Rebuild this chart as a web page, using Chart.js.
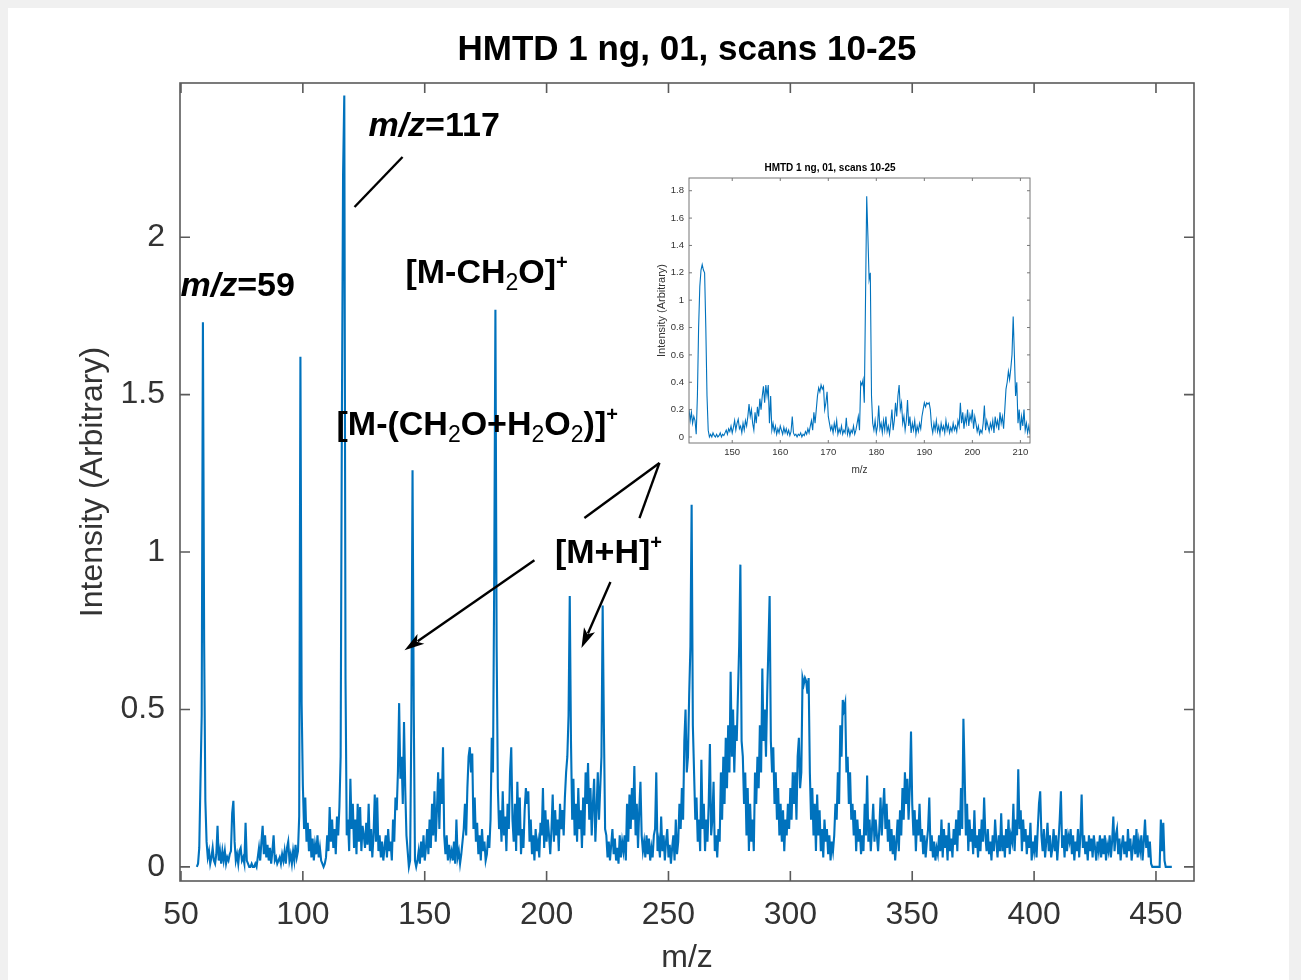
<!DOCTYPE html>
<html>
<head>
<meta charset="utf-8">
<script src="https://cdn.jsdelivr.net/npm/chart.js@4.4.1/dist/chart.umd.min.js"></script>
<style>
html,body{margin:0;padding:0;background:#f0f0f0;}
#wrap{position:relative;width:1301px;height:980px;overflow:hidden;}
#main{position:absolute;left:0;top:0;}
#inset{position:absolute;left:630px;top:150px;}
</style>
</head>
<body>
<div id="wrap">
<canvas id="main" width="1301" height="980"></canvas>
<canvas id="inset" width="420" height="340"></canvas>
</div>
<script>
// ---------------- DATA ----------------
const chartTitle = 'HMTD 1 ng, 01, scans 10-25';
const xAxisLabel = 'm/z';
const yAxisLabel = 'Intensity (Arbitrary)';

// main spectrum: each row holds 10 intensities, m/z grid starts at 56.5, step 0.5
const mainMzStart = 56.5;
const mainMzStep = 0.5;
const mainIntensityRows = [
  [0,0.01,0.06,0.27,0.48,1.73,0.72,0.21,0.08,0.03],      // 56.5
  [0.05,0.01,0.03,0.06,0.02,0.01,0.04,0.13,0.02,0.05],   // 61.5
  [0.01,0.05,0.02,0.05,0.01,0.03,0.02,0.04,0.05,0.17],   // 66.5
  [0.21,0.08,0.02,0.04,0.01,0.05,0.06,0.02,0.03,0.01],   // 71.5
  [0.14,0.02,0.01,0,0,0.01,0,0,0.01,0],                  // 76.5
  [0.03,0.06,0.02,0.08,0.13,0.04,0.1,0.03,0.07,0.02],    // 81.5
  [0.06,0.01,0.05,0.1,0.02,0.03,0.01,0.02,0.03,0.01],    // 86.5
  [0.04,0.02,0.05,0.01,0.06,0.08,0.02,0.04,0.01,0.05],   // 91.5
  [0.02,0.07,0.03,0.05,0.16,1.62,0.52,0.26,0.12,0.22],   // 96.5
  [0.08,0.14,0.05,0.12,0.03,0.09,0.02,0.07,0.04,0.1],    // 101.5
  [0.03,0.06,0.02,0.01,0,0.01,0.03,0.1,0.05,0.19],       // 106.5
  [0.08,0.15,0.06,0.12,0.04,0.16,0.1,0.19,0.35,1.4],     // 111.5
  [2.2,2.45,0.6,0.1,0.15,0.05,0.28,0.12,0.2,0.06],       // 116.5
  [0.15,0.04,0.2,0.08,0.19,0.05,0.13,0.1,0.06,0.14],     // 121.5
  [0.07,0.2,0.05,0.12,0.03,0.1,0.23,0.08,0.22,0.05],     // 126.5
  [0.1,0.03,0.08,0.02,0.06,0.1,0.03,0.12,0.05,0.08],     // 131.5
  [0.02,0.15,0.08,0.22,0.18,0.3,0.52,0.28,0.35,0.2],     // 136.5
  [0.46,0.25,0.1,0.05,0,0.02,0.45,1.26,0.5,0.02],        // 141.5
  [0,0.02,0.05,0.01,0.08,0.03,0.1,0.02,0.06,0.12],       // 146.5
  [0.04,0.15,0.06,0.2,0.1,0.24,0.08,0.18,0.3,0.12],      // 151.5
  [0.28,0.2,0.38,0.1,0.04,0.1,0.02,0.07,0.03,0.05],      // 156.5
  [0.02,0.08,0.01,0.15,0.03,0.05,0.01,0.04,0.08,0.12],   // 161.5
  [0.2,0.1,0.25,0.35,0.38,0.3,0.36,0.12,0.22,0.08],      // 166.5
  [0.14,0.04,0.1,0.02,0.12,0.05,0.08,0.02,0.04,0.1],     // 171.5
  [0.06,0.15,0.41,0.3,0.9,1.77,0.7,0.25,0.12,0.18],      // 176.5
  [0.08,0.24,0.1,0.16,0.05,0.2,0.12,0.3,0.38,0.15],      // 181.5
  [0.08,0.2,0.05,0.27,0.1,0.22,0.04,0.12,0.06,0.18],     // 186.5
  [0.25,0.2,0.24,0.08,0.15,0.04,0.1,0.02,0.12,0.05],     // 191.5
  [0.08,0.03,0.14,0.1,0.25,0.06,0.18,0.08,0.15,0.1],     // 196.5
  [0.04,0.12,0.23,0.08,0.18,0.1,0.15,0.05,0.2,0.12],     // 201.5
  [0.18,0.1,0.22,0.3,0.35,0.48,0.86,0.4,0.15,0.28],      // 206.5
  [0.1,0.2,0.08,0.25,0.12,0.18,0.06,0.22,0.1,0.3],       // 211.5
  [0.2,0.33,0.15,0.25,0.1,0.2,0.28,0.08,0.18,0.3],       // 216.5
  [0.15,0.25,0.35,0.83,0.45,0.12,0.1,0.03,0.08,0.02],    // 221.5
  [0.07,0.12,0.04,0.09,0.02,0.06,0.01,0.1,0.03,0.08],    // 226.5
  [0.05,0.1,0.02,0.2,0.08,0.23,0.12,0.25,0.15,0.32],     // 231.5
  [0.1,0.2,0.06,0.18,0.27,0.1,0.05,0.08,0.03,0.1],       // 236.5
  [0.04,0.09,0.02,0.06,0.03,0.1,0.12,0.3,0.05,0.08],     // 241.5
  [0.03,0.16,0.05,0.1,0.02,0.08,0.12,0.03,0.07,0.01],    // 246.5
  [0.06,0.1,0.02,0.15,0.04,0.08,0.2,0.12,0.25,0.15],     // 251.5
  [0.4,0.5,0.3,0.35,0.55,0.7,1.15,0.45,0.3,0.15],        // 256.5
  [0.22,0.08,0.15,0.05,0.34,0.12,0.2,0.05,0.15,0.08],    // 261.5
  [0.2,0.39,0.1,0.15,0.27,0.05,0.1,0.03,0.12,0.08],      // 266.5
  [0.3,0.15,0.35,0.2,0.41,0.25,0.45,0.3,0.62,0.35],      // 271.5
  [0.5,0.3,0.45,0.4,0.55,0.7,0.96,0.4,0.35,0.2],         // 276.5
  [0.3,0.1,0.25,0.05,0.2,0.08,0.15,0.05,0.3,0.2],        // 281.5
  [0.35,0.25,0.45,0.3,0.63,0.4,0.5,0.35,0.55,0.7],       // 286.5
  [0.86,0.4,0.3,0.38,0.2,0.3,0.15,0.25,0.1,0.2],         // 291.5
  [0.08,0.18,0.05,0.15,0.1,0.2,0.12,0.25,0.15,0.3],      // 296.5
  [0.2,0.3,0.15,0.35,0.41,0.25,0.3,0.6,0.58,0.6],        // 301.5
  [0.59,0.55,0.6,0.3,0.15,0.25,0.1,0.2,0.05,0.23],       // 306.5
  [0.1,0.18,0.05,0.12,0.03,0.15,0.08,0.12,0.04,0.1],     // 311.5
  [0.02,0.08,0.05,0.1,0.2,0.15,0.3,0.2,0.45,0.35],       // 316.5
  [0.53,0.5,0.52,0.3,0.35,0.2,0.3,0.15,0.2,0.1],         // 321.5
  [0.18,0.05,0.15,0.08,0.12,0.04,0.1,0.05,0.2,0.1],      // 326.5
  [0.29,0.08,0.15,0.05,0.12,0.2,0.08,0.15,0.1,0.05],     // 331.5
  [0.12,0.22,0.1,0.18,0.25,0.12,0.2,0.08,0.15,0.05],     // 336.5
  [0.12,0.04,0.1,0.02,0.08,0.15,0.05,0.18,0.1,0.25],     // 341.5
  [0.15,0.3,0.2,0.28,0.15,0.25,0.43,0.2,0.1,0.18],       // 346.5
  [0.05,0.15,0.1,0.2,0.08,0.12,0.04,0.1,0.03,0.08],      // 351.5
  [0.12,0.22,0.05,0.1,0.03,0.08,0.02,0.06,0.04,0.1],     // 356.5
  [0.05,0.15,0.03,0.12,0.06,0.1,0.02,0.14,0.05,0.09],    // 361.5
  [0.03,0.12,0.07,0.15,0.05,0.18,0.1,0.25,0.12,0.47],    // 366.5
  [0.3,0.1,0.2,0.05,0.15,0.08,0.12,0.04,0.18,0.06],      // 371.5
  [0.1,0.03,0.12,0.05,0.15,0.08,0.22,0.1,0.05,0.12],     // 376.5
  [0.04,0.08,0.02,0.1,0.05,0.15,0.08,0.03,0.1,0.05],     // 381.5
  [0.17,0.05,0.1,0.03,0.12,0.06,0.15,0.04,0.1,0.08],     // 386.5
  [0.2,0.05,0.15,0.1,0.31,0.12,0.18,0.05,0.15,0.08],     // 391.5
  [0.12,0.04,0.1,0.06,0.14,0.02,0.08,0.05,0.1,0.03],     // 396.5
  [0.12,0.2,0.24,0.1,0.05,0.12,0.03,0.08,0.14,0.05],     // 401.5
  [0.1,0.03,0.06,0.12,0.05,0.1,0.02,0.08,0.15,0.24],     // 406.5
  [0.06,0.1,0.03,0.12,0.05,0.1,0.08,0.12,0.04,0.1],      // 411.5
  [0.02,0.08,0.05,0.12,0.03,0.1,0.23,0.06,0.1,0.04],     // 416.5
  [0.08,0.02,0.1,0.05,0.09,0.03,0.1,0.06,0.02,0.08],     // 421.5
  [0.05,0.1,0.03,0.09,0.04,0.1,0.02,0.07,0.05,0.1],      // 426.5
  [0.03,0.08,0.16,0.05,0.1,0.12,0.04,0.09,0.02,0.07],    // 431.5
  [0.1,0.04,0.08,0.03,0.12,0.05,0.09,0.02,0.06,0.1],     // 436.5
  [0.04,0.12,0.03,0.08,0.05,0.1,0.02,0.08,0.15,0.06],    // 441.5
  [0.1,0.03,0.08,0.01,0,0,0,0,0,0],                      // 446.5
  [0,0.15,0.05,0.14,0.02,0,0,0,0,0],                     // 451.5
  [0]                                                    // 456.5
];

// inset spectrum: each row holds 10 intensities, m/z grid starts at 141, step 0.25
const insetMzStart = 141;
const insetMzStep = 0.25;
const insetIntensityRows = [
  [0.2,0.12,0.18,0.1,0.15,0.12,0.02,0.3,0.8,1.1],        // 141
  [1.22,1.26,1.22,1.2,0.8,0.3,0.05,0,0.02,0],            // 143.5
  [0.03,0.01,0,0.02,0,0.01,0.03,0,0.02,0.01],            // 146
  [0.03,0.05,0.02,0.06,0.04,0.08,0.03,0.07,0.12,0.05],   // 148.5
  [0.1,0.13,0.06,0.08,0.03,0.1,0.05,0.12,0.08,0.15],     // 151
  [0.24,0.15,0.2,0.1,0.05,0.18,0.1,0.22,0.15,0.28],      // 153.5
  [0.2,0.3,0.37,0.25,0.38,0.3,0.38,0.1,0.3,0.05],        // 156
  [0.1,0.04,0.08,0.02,0.06,0.03,0.08,0.05,0.02,0.07],    // 158.5
  [0.03,0.06,0.02,0.05,0.01,0.04,0.15,0.03,0.01,0.02],   // 161
  [0,0.02,0.01,0.03,0,0.02,0.01,0.04,0.02,0.06],         // 163.5
  [0.03,0.08,0.12,0.05,0.18,0.1,0.2,0.3,0.36,0.33],      // 166
  [0.38,0.35,0.37,0.2,0.25,0.33,0.15,0.1,0.05,0.08],     // 168.5
  [0.03,0.1,0.05,0.12,0.02,0.06,0.03,0.08,0.02,0.05],    // 171
  [0.03,0.14,0.02,0.06,0.01,0.05,0.03,0.08,0.02,0.05],   // 173.5
  [0.1,0.15,0.05,0.4,0.38,0.42,0.25,1.0,1.76,1.47],      // 176
  [1.15,1.2,0.3,0.1,0.05,0.12,0.03,0.08,0.23,0.06],      // 178.5
  [0.1,0.03,0.12,0.05,0.15,0.04,0.08,0.02,0.1,0.2],      // 181
  [0.05,0.12,0.25,0.15,0.3,0.38,0.2,0.25,0.1,0.15],      // 183.5
  [0.05,0.12,0.27,0.08,0.15,0.03,0.1,0.05,0.12,0.02],    // 186
  [0.08,0.04,0.1,0.06,0.15,0.2,0.25,0.22,0.25,0.24],     // 188.5
  [0.25,0.2,0.08,0.03,0.1,0.05,0.12,0.04,0.08,0.02],     // 191
  [0.1,0.05,0.08,0.03,0.12,0.05,0.09,0.03,0.07,0.04],    // 193.5
  [0.1,0.05,0.08,0.04,0.12,0.08,0.25,0.1,0.18,0.06],     // 196
  [0.15,0.1,0.2,0.08,0.16,0.12,0.2,0.06,0.15,0.1],       // 198.5
  [0.04,0.08,0.02,0.05,0.03,0.1,0.23,0.05,0.12,0.08],    // 201
  [0.04,0.1,0.06,0.12,0.03,0.15,0.08,0.12,0.05,0.18],    // 203.5
  [0.1,0.15,0.06,0.2,0.35,0.4,0.48,0.42,0.5,0.6],        // 206
  [0.88,0.6,0.3,0.4,0.1,0.2,0.05,0.15,0.08,0.2],         // 208.5
  [0.05,0.1,0.03,0.08,0.02]                              // 211
];

const mainXTicks = [50,100,150,200,250,300,350,400,450];
const mainYTicks = [0,0.5,1,1.5,2];
const insetXTicks = [150,160,170,180,190,200,210];
const insetYTicks = [0,0.2,0.4,0.6,0.8,1,1.2,1.4,1.6,1.8];

// annotation texts (runs: text, style) anchored in data coordinates
const annotationLabels = [
  {at:[49.8,1.813],  runs:[['m/z','bi'],['=59','b']]},
  {at:[126.9,2.321], runs:[['m/z','bi'],['=117','b']]},
  {at:[142.1,1.854], runs:[['[M-CH','b'],['2','sub'],['O]','b'],['+','sup']]},
  {at:[113.8,1.371], runs:[['[M-(CH','b'],['2','sub'],['O+H','b'],['2','sub'],['O','b'],['2','sub'],[')]','b'],['+','sup']]},
  {at:[203.4,0.965], runs:[['[M+H]','b'],['+','sup']]}
];
const annotationLines = [
  {from:[121.2,2.096], to:[140.9,2.255], arrow:false},
  {from:[195.0,0.974], to:[141.7,0.688], arrow:true},
  {from:[226.2,0.905], to:[214.3,0.695], arrow:true},
  {from:[215.5,1.108], to:[246.3,1.283], arrow:false},
  {from:[238.1,1.108], to:[246.3,1.283], arrow:false}
];

// ---------------- BUILD ----------------
const FONT = "'Liberation Sans', Arial, Helvetica, sans-serif";
const LINE_COLOR = '#0072BD';
const TEXT_GRAY = '#333333';
const AXIS_GRAY = '#5a5a5a';

function buildPoints(start, step, perRow, rows){
  const pts = [];
  rows.forEach((row, r) => row.forEach((v, i) => {
    pts.push({x: +(start + (r*perRow + i)*step).toFixed(3), y: v});
  }));
  return pts;
}
const mainPoints = buildPoints(mainMzStart, mainMzStep, 10, mainIntensityRows);
const insetPoints = buildPoints(insetMzStart, insetMzStep, 10, insetIntensityRows);

const framePlugin = {
  id: 'frame',
  beforeDraw(chart, args, o){
    if(!o.page) return;
    const ctx = chart.ctx;
    ctx.save();
    ctx.fillStyle = o.page; ctx.fillRect(0,0,chart.width,chart.height);
    ctx.fillStyle = o.paper; ctx.fillRect(o.paperRect[0],o.paperRect[1],o.paperRect[2],o.paperRect[3]);
    ctx.restore();
  },
  afterDraw(chart, args, o){
    const {ctx, chartArea:a, scales} = chart;
    const x = scales.x, y = scales.y;
    ctx.save();
    ctx.strokeStyle = o.color; ctx.lineWidth = o.width;
    ctx.beginPath();
    x.ticks.forEach(t => {
      const p = x.getPixelForValue(t.value);
      ctx.moveTo(p, a.bottom); ctx.lineTo(p, a.bottom - o.len);
      ctx.moveTo(p, a.top); ctx.lineTo(p, a.top + o.len);
    });
    y.ticks.forEach(t => {
      const p = y.getPixelForValue(t.value);
      ctx.moveTo(a.left, p); ctx.lineTo(a.left + o.len, p);
      ctx.moveTo(a.right, p); ctx.lineTo(a.right - o.len, p);
    });
    ctx.stroke();
    ctx.strokeRect(a.left, a.top, a.right - a.left, a.bottom - a.top);
    // title centred over the axes box
    if(o.title){
      ctx.fillStyle = o.title.color;
      ctx.font = o.title.font;
      ctx.textAlign = 'center'; ctx.textBaseline = 'middle';
      ctx.fillText(chartTitle, (a.left + a.right)/2, a.top - o.title.offset);
    }
    ctx.restore();
  }
};

const annotationPlugin = {
  id: 'notes',
  afterDraw(chart, args, o){
    const {ctx, scales:{x, y}} = chart;
    ctx.save();
    ctx.fillStyle = '#000'; ctx.strokeStyle = '#000';
    ctx.textBaseline = 'alphabetic'; ctx.textAlign = 'left';
    const fonts = {
      b:  {f:'bold ' + o.size + 'px ' + FONT, dy:0},
      bi: {f:'italic bold ' + o.size + 'px ' + FONT, dy:0},
      sub:{f:o.subSize + 'px ' + FONT, dy:o.subDy},
      sup:{f:'bold ' + o.supSize + 'px ' + FONT, dy:o.supDy}
    };
    annotationLabels.forEach(lab => {
      let px = x.getPixelForValue(lab.at[0]);
      const py = y.getPixelForValue(lab.at[1]);
      lab.runs.forEach(([t, s]) => {
        const st = fonts[s];
        ctx.font = st.f;
        ctx.fillText(t, px, py + st.dy);
        px += ctx.measureText(t).width;
      });
    });
    ctx.lineWidth = o.lineWidth;
    annotationLines.forEach(l => {
      const x1 = x.getPixelForValue(l.from[0]), y1 = y.getPixelForValue(l.from[1]);
      const x2 = x.getPixelForValue(l.to[0]), y2 = y.getPixelForValue(l.to[1]);
      const ang = Math.atan2(y2 - y1, x2 - x1);
      let ex = x2, ey = y2;
      if(l.arrow){ ex = x2 - Math.cos(ang)*o.head*0.8; ey = y2 - Math.sin(ang)*o.head*0.8; }
      ctx.beginPath(); ctx.moveTo(x1, y1); ctx.lineTo(ex, ey); ctx.stroke();
      if(l.arrow){
        ctx.beginPath();
        ctx.moveTo(x2, y2);
        ctx.lineTo(x2 - Math.cos(ang)*o.head + Math.sin(ang)*o.headW, y2 - Math.sin(ang)*o.head - Math.cos(ang)*o.headW);
        ctx.lineTo(x2 - Math.cos(ang)*o.head*0.75, y2 - Math.sin(ang)*o.head*0.75);
        ctx.lineTo(x2 - Math.cos(ang)*o.head - Math.sin(ang)*o.headW, y2 - Math.sin(ang)*o.head + Math.cos(ang)*o.headW);
        ctx.closePath(); ctx.fill();
      }
    });
    ctx.restore();
  }
};

function tickSetter(values){ return s => { s.ticks = values.map(v => ({value:v})); }; }

new Chart(document.getElementById('main'), {
  type: 'line',
  data: { datasets: [{ data: mainPoints, borderColor: LINE_COLOR, borderWidth: 2.1, pointRadius: 0, tension: 0, fill: false }] },
  options: {
    responsive: false, animation: false, devicePixelRatio: 1,
    layout: { padding: { left: 0, right: 107, top: 83, bottom: 0 } },
    plugins: {
      legend: { display: false }, tooltip: { enabled: false }, title: { display: false },
      frame: { page: '#f0f0f0', paper: '#ffffff', paperRect: [8, 8, 1281, 972], color: AXIS_GRAY, width: 1.6, len: 10,
               title: { font: 'bold 35px ' + FONT, color: '#000', offset: 33 } },
      notes: { size: 34, subSize: 23, subDy: 7, supSize: 20, supDy: -14, lineWidth: 2.4, head: 20, headW: 6 }
    },
    scales: {
      x: {
        type: 'linear', min: 49.6, max: 465.6,
        afterBuildTicks: tickSetter(mainXTicks),
        afterFit: s => { s.height = 99; },
        grid: { display: false, drawTicks: false }, border: { display: false },
        ticks: { color: TEXT_GRAY, font: { family: FONT, size: 32 }, padding: 15, maxRotation: 0, autoSkip: false, callback: v => String(v) },
        title: { display: true, text: xAxisLabel, color: TEXT_GRAY, font: { family: FONT, size: 32 }, padding: { top: 0, bottom: 3 } }
      },
      y: {
        type: 'linear', min: -0.045, max: 2.49,
        afterBuildTicks: tickSetter(mainYTicks),
        afterFit: s => { s.width = 180; },
        grid: { display: false, drawTicks: false }, border: { display: false },
        ticks: { color: TEXT_GRAY, font: { family: FONT, size: 32 }, padding: 15, autoSkip: false, callback: v => String(v) },
        title: { display: true, text: yAxisLabel, color: TEXT_GRAY, font: { family: FONT, size: 32 }, padding: { top: 74, bottom: 0 } }
      }
    }
  },
  plugins: [framePlugin, annotationPlugin]
});

new Chart(document.getElementById('inset'), {
  type: 'line',
  data: { datasets: [{ data: insetPoints, borderColor: LINE_COLOR, borderWidth: 1.1, pointRadius: 0, tension: 0, fill: false }] },
  options: {
    responsive: false, animation: false, devicePixelRatio: 1,
    layout: { padding: { left: 0, right: 20, top: 0, bottom: 0 } },
    plugins: {
      legend: { display: false }, tooltip: { enabled: false },
      title: { display: true, text: chartTitle, color: '#000', font: { family: FONT, size: 10, weight: 'bold' }, padding: { top: 12, bottom: 4 } },
      frame: { color: '#777777', width: 1, len: 3 }
    },
    scales: {
      x: {
        type: 'linear', min: 141, max: 212,
        afterBuildTicks: tickSetter(insetXTicks),
        afterFit: s => { s.height = 47; },
        grid: { display: false, drawTicks: false }, border: { display: false },
        ticks: { color: TEXT_GRAY, font: { family: FONT, size: 9.5 }, padding: 4, maxRotation: 0, autoSkip: false, callback: v => String(v) },
        title: { display: true, text: xAxisLabel, color: TEXT_GRAY, font: { family: FONT, size: 10 }, padding: { top: 0, bottom: 14 } }
      },
      y: {
        type: 'linear', min: -0.044, max: 1.893,
        afterBuildTicks: tickSetter(insetYTicks),
        afterFit: s => { s.width = 59; },
        grid: { display: false, drawTicks: false }, border: { display: false },
        ticks: { color: TEXT_GRAY, font: { family: FONT, size: 9.5 }, padding: 5, autoSkip: false, callback: v => String(v) },
        title: { display: true, text: yAxisLabel, color: TEXT_GRAY, font: { family: FONT, size: 11 }, padding: { top: 25, bottom: 0 } }
      }
    }
  },
  plugins: [framePlugin]
});
</script>
</body>
</html>
